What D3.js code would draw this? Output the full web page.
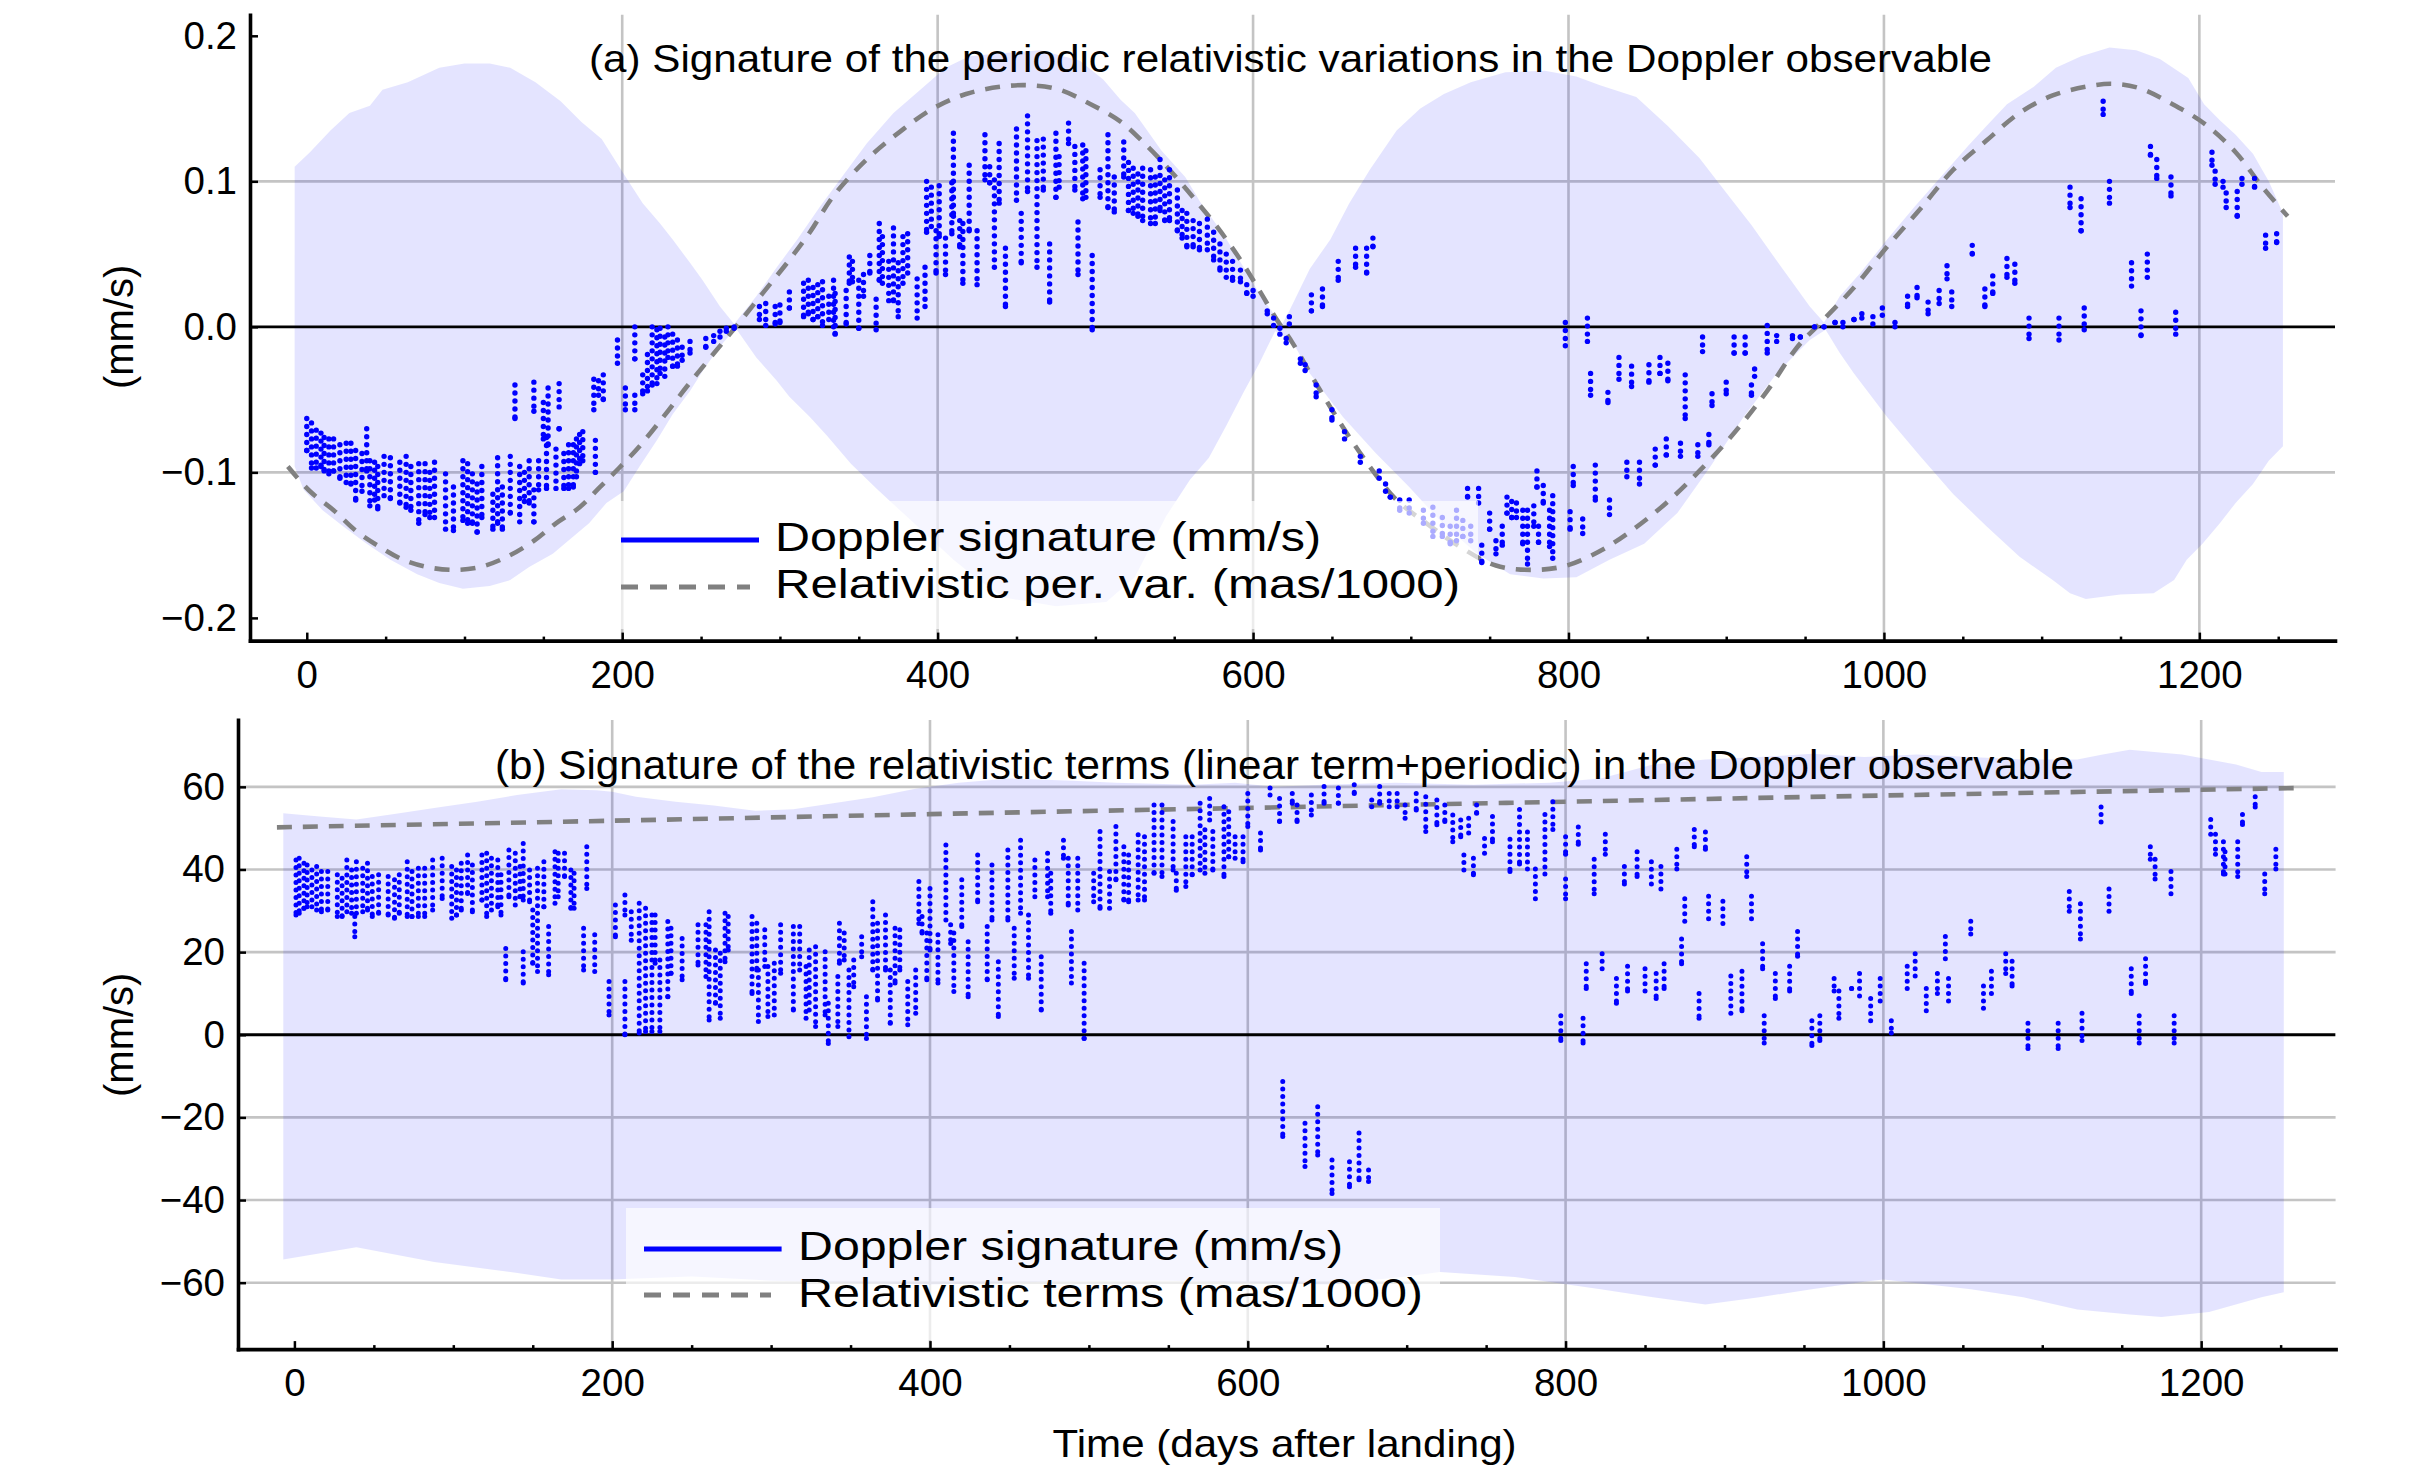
<!DOCTYPE html>
<html>
<head>
<meta charset="utf-8">
<script src="https://cdn.jsdelivr.net/npm/d3@7"></script>
<style>
  body { margin: 0; background: #fff; }
  text { font-family: "Liberation Sans", Arial, sans-serif; }
</style>
</head>
<body>
<script>

// ---- panel (a) : periodic relativistic variations ----
var xTicks = [0, 200, 400, 600, 800, 1000, 1200];
var yTicksA = [-0.2, -0.1, 0, 0.1, 0.2];
var yTicksB = [-60, -40, -20, 0, 20, 40, 60];

// dashed model curve, [day, mm/s]
var periodicCurve = [[-12,-0.096],[2,-0.113],[17,-0.126],[31,-0.140],[46,-0.151],[61,-0.160],[76,-0.165],[93,-0.167],
  [110,-0.165],[127,-0.158],[144,-0.147],[158,-0.135],[173,-0.124],[186,-0.110],[198,-0.097],[211,-0.082],[226,-0.062],
  [241,-0.041],[256,-0.021],[272,0.0],[289,0.023],[306,0.046],[319,0.065],[334,0.090],[355,0.115],[376,0.134],[397,0.150],
  [418,0.160],[440,0.165],[458,0.166],[477,0.163],[497,0.153],[516,0.141],[533,0.124],[547,0.108],[562,0.089],[577,0.069],
  [592,0.046],[604,0.025],[615,0.005],[625,-0.011],[640,-0.039],[657,-0.069],[674,-0.096],[691,-0.119],[710,-0.135],
  [731,-0.151],[754,-0.164],[778,-0.167],[799,-0.164],[820,-0.154],[840,-0.140],[862,-0.121],[883,-0.099],[905,-0.073],
  [926,-0.044],[945,-0.014],[960,0.003],[981,0.027],[1002,0.055],[1023,0.081],[1044,0.108],[1065,0.128],[1086,0.147],
  [1107,0.159],[1128,0.165],[1145,0.167],[1162,0.164],[1183,0.153],[1204,0.139],[1223,0.120],[1240,0.096],[1256,0.076]];

// shaded band, upper and lower edges
var bandTopA = [[-7.7,0.110],[2,0.120],[15,0.135],[27,0.147],[40,0.152],[48,0.163],[64,0.168],[84,0.178],[100,0.181],
  [116,0.181],[129,0.178],[145,0.168],[161,0.155],[174,0.141],[187,0.129],[201,0.105],[213,0.085],[224,0.071],[232,0.060],
  [243,0.044],[251,0.032],[262,0.014],[271,0.002],[285,0.021],[298,0.041],[311,0.060],[325,0.082],[338,0.101],[355,0.126],
  [372,0.147],[389,0.163],[405,0.178],[420,0.186],[440,0.188],[465,0.190],[490,0.183],[505,0.170],[516,0.156],[525,0.147],
  [542,0.121],[557,0.103],[567,0.085],[581,0.064],[594,0.041],[604,0.023],[613,0.009],[618,0.001],[623,0.011],[636,0.040],
  [649,0.060],[661,0.085],[674,0.108],[691,0.135],[706,0.150],[721,0.160],[738,0.168],[760,0.175],[785,0.176],[805,0.172],
  [820,0.166],[843,0.158],[863,0.138],[883,0.116],[903,0.088],[916,0.070],[929,0.050],[941,0.032],[953,0.014],[962,0.003],
  [972,0.021],[985,0.037],[1002,0.060],[1019,0.082],[1036,0.103],[1053,0.124],[1065,0.138],[1078,0.153],[1095,0.165],
  [1109,0.178],[1125,0.186],[1143,0.192],[1160,0.190],[1175,0.184],[1193,0.171],[1203,0.153],[1213,0.142],[1223,0.132],
  [1234,0.119],[1244,0.100],[1253,0.078]];
var bandBottomA = [[-7.7,-0.096],[-2,-0.112],[10,-0.126],[23,-0.137],[38,-0.149],[53,-0.160],[70,-0.170],[84,-0.176],
  [99,-0.180],[116,-0.178],[129,-0.174],[141,-0.165],[156,-0.156],[169,-0.144],[179,-0.135],[190,-0.121],[201,-0.113],
  [211,-0.096],[222,-0.078],[232,-0.060],[243,-0.044],[253,-0.027],[264,-0.011],[272,-0.001],[285,-0.021],[298,-0.037],
  [306,-0.048],[319,-0.062],[330,-0.075],[345,-0.094],[362,-0.112],[378,-0.128],[395,-0.145],[410,-0.160],[426,-0.174],
  [442,-0.186],[475,-0.192],[507,-0.189],[525,-0.172],[545,-0.130],[560,-0.105],[572,-0.090],[583,-0.068],[594,-0.045],
  [604,-0.025],[614,-0.003],[625,-0.010],[636,-0.032],[657,-0.062],[678,-0.087],[699,-0.110],[720,-0.135],[742,-0.156],
  [763,-0.170],[784,-0.173],[805,-0.172],[826,-0.160],[848,-0.149],[869,-0.128],[890,-0.096],[911,-0.062],[932,-0.032],
  [953,-0.009],[963,-0.002],[972,-0.018],[981,-0.032],[1002,-0.062],[1023,-0.089],[1044,-0.115],[1065,-0.137],
  [1086,-0.158],[1107,-0.174],[1118,-0.183],[1128,-0.187],[1150,-0.184],[1171,-0.183],[1184,-0.174],[1192,-0.160],
  [1202,-0.149],[1213,-0.135],[1223,-0.121],[1234,-0.108],[1244,-0.092],[1253,-0.082]];

// Doppler passes: [day, highest value, lowest value]
var passesA = [[0,-0.063,-0.085],[3,-0.066,-0.097],[6,-0.071,-0.097],[9,-0.073,-0.096],[11,-0.076,-0.099],[14,-0.077,-0.101],
  [17,-0.077,-0.099],[21,-0.081,-0.104],[25,-0.080,-0.107],[28,-0.080,-0.108],[31,-0.085,-0.119],[35,-0.087,-0.113],
  [38,-0.070,-0.099],[40,-0.092,-0.123],[43,-0.093,-0.119],[45,-0.096,-0.125],[49,-0.089,-0.116],[53,-0.090,-0.118],
  [59,-0.093,-0.121],[63,-0.089,-0.124],[66,-0.096,-0.126],[71,-0.094,-0.135],[75,-0.094,-0.129],[78,-0.100,-0.131],
  [81,-0.093,-0.131],[88,-0.101,-0.139],[93,-0.110,-0.140],[99,-0.092,-0.133],[102,-0.094,-0.135],[105,-0.101,-0.135],
  [108,-0.108,-0.141],[111,-0.096,-0.131],[118,-0.115,-0.139],[121,-0.090,-0.135],[124,-0.110,-0.139],[129,-0.089,-0.128],
  [132,-0.040,-0.063],[135,-0.096,-0.134],[138,-0.100,-0.120],[141,-0.092,-0.121],[144,-0.038,-0.058],[144,-0.112,-0.134],
  [147,-0.092,-0.112],[150,-0.052,-0.077],[152,-0.076,-0.111],[153,-0.042,-0.081],[158,-0.084,-0.111],[160,-0.039,-0.055],
  [160,-0.070,-0.070],[163,-0.087,-0.111],[166,-0.081,-0.111],[169,-0.081,-0.110],[171,-0.077,-0.103],[173,-0.074,-0.094],
  [175,-0.072,-0.092],[182,-0.036,-0.057],[183,-0.078,-0.100],[185,-0.037,-0.047],[188,-0.033,-0.050],[197,-0.009,-0.025],
  [202,-0.042,-0.057],[208,0.000,-0.022],[208,-0.047,-0.057],[213,-0.033,-0.046],[216,-0.019,-0.044],[219,0.000,-0.040],
  [222,-0.002,-0.039],[224,-0.001,-0.032],[227,-0.007,-0.034],[229,0.000,-0.021],[232,-0.005,-0.027],[235,-0.009,-0.027],
  [238,-0.014,-0.023],[243,-0.010,-0.018],[253,-0.008,-0.014],[258,-0.006,-0.010],[262,-0.003,-0.007],[266,-0.001,-0.003],
  [271,0.000,-0.001],[287,0.014,0.005],[291,0.016,0.001],[297,0.014,0.002],[300,0.015,0.003],[306,0.024,0.013],
  [315,0.030,0.007],[318,0.032,0.009],[321,0.027,0.005],[324,0.029,0.007],[327,0.031,0.001],[331,0.021,0.005],
  [334,0.032,0.000],[335,0.023,-0.005],[342,0.025,0.002],[344,0.048,0.030],[346,0.045,0.031],[350,0.032,-0.001],
  [353,0.036,0.021],[357,0.049,0.037],[361,0.019,-0.002],[363,0.071,0.032],[365,0.062,0.030],[369,0.045,0.018],
  [372,0.068,0.018],[375,0.044,0.007],[378,0.062,0.030],[381,0.064,0.037],[387,0.033,0.006],[392,0.041,0.014],
  [393,0.100,0.065],[396,0.096,0.069],[399,0.066,0.037],[401,0.097,0.062],[405,0.061,0.036],[409,0.099,0.064],
  [410,0.133,0.076],[414,0.073,0.055],[416,0.071,0.030],[420,0.111,0.066],[425,0.066,0.029],[430,0.132,0.101],
  [433,0.110,0.099],[436,0.101,0.041],[439,0.126,0.085],[443,0.054,0.014],[450,0.136,0.087],[453,0.078,0.044],
  [457,0.145,0.093],[463,0.128,0.041],[467,0.129,0.094],[471,0.057,0.017],[475,0.133,0.089],[477,0.117,0.096],
  [483,0.140,0.126],[487,0.124,0.094],[489,0.072,0.036],[492,0.125,0.088],[494,0.121,0.089],[498,0.049,-0.002],
  [503,0.108,0.089],[508,0.132,0.082],[512,0.103,0.079],[518,0.127,0.103],[521,0.113,0.080],[524,0.109,0.078],
  [527,0.105,0.076],[530,0.109,0.073],[535,0.108,0.071],[538,0.103,0.071],[541,0.115,0.080],[544,0.101,0.073],
  [547,0.108,0.073],[552,0.094,0.066],[555,0.080,0.061],[558,0.078,0.055],[562,0.073,0.055],[566,0.071,0.053],
  [571,0.074,0.053],[575,0.065,0.046],[579,0.057,0.039],[583,0.050,0.034],[587,0.045,0.032],[592,0.039,0.031],
  [596,0.029,0.023],[600,0.025,0.021],[609,0.011,0.009],[613,0.006,0.001],[617,-0.001,-0.005],[621,-0.008,-0.011],
  [623,0.007,0.002],[630,-0.022,-0.025],[633,-0.026,-0.030],[637,0.022,0.011],[640,-0.040,-0.048],[644,0.026,0.014],
  [650,-0.057,-0.064],[654,0.045,0.032],[658,-0.072,-0.077],[665,0.054,0.041],[668,-0.089,-0.093],[672,0.054,0.037],
  [676,0.061,0.055],[680,-0.099,-0.104],[684,-0.108,-0.113],[687,-0.117,-0.117],[693,-0.119,-0.126],[699,-0.119,-0.128],
  [708,-0.126,-0.135],[714,-0.124,-0.144],[720,-0.131,-0.144],[725,-0.137,-0.149],[729,-0.126,-0.147],[733,-0.133,-0.144],
  [736,-0.111,-0.117],[738,-0.137,-0.147],[743,-0.111,-0.121],[745,-0.150,-0.162],[750,-0.128,-0.139],[754,-0.147,-0.156],
  [758,-0.137,-0.150],[761,-0.117,-0.128],[764,-0.120,-0.131],[767,-0.121,-0.131],[771,-0.126,-0.149],[774,-0.126,-0.163],
  [778,-0.123,-0.137],[780,-0.099,-0.110],[781,-0.137,-0.148],[784,-0.109,-0.121],[788,-0.126,-0.151],[790,-0.116,-0.159],
  [798,0.003,-0.013],[801,-0.127,-0.139],[803,-0.096,-0.109],[809,-0.132,-0.142],[812,0.006,-0.010],[814,-0.032,-0.047],
  [817,-0.095,-0.119],[825,-0.045,-0.052],[826,-0.119,-0.129],[832,-0.021,-0.036],[837,-0.093,-0.103],[840,-0.027,-0.041],
  [845,-0.093,-0.108],[851,-0.026,-0.038],[855,-0.084,-0.095],[858,-0.021,-0.032],[862,-0.077,-0.088],[863,-0.025,-0.037],
  [871,-0.080,-0.089],[874,-0.033,-0.063],[882,-0.081,-0.089],[885,-0.007,-0.017],[889,-0.074,-0.081],[891,-0.046,-0.054],
  [900,-0.038,-0.046],[905,-0.007,-0.018],[912,-0.007,-0.018],[916,-0.040,-0.047],[918,-0.029,-0.034],[926,0.001,-0.018],
  [932,-0.006,-0.010],[942,-0.006,-0.008],[947,-0.007,-0.007],[956,0,0],[962,0,0],[969,0.003,0.003],[974,0.003,0.000],
  [981,0.005,0.005],[986,0.009,0.006],[993,0.007,0.002],[999,0.013,0.008],[1007,0.003,0.000],[1015,0.021,0.014],
  [1021,0.027,0.020],[1028,0.017,0.009],[1035,0.025,0.016],[1040,0.042,0.033],[1043,0.024,0.014],[1056,0.056,0.050],
  [1064,0.026,0.014],[1069,0.035,0.023],[1078,0.047,0.034],[1083,0.043,0.030],[1092,0.006,-0.008],[1111,0.006,-0.009],
  [1118,0.096,0.082],[1125,0.088,0.066],[1127,0.013,-0.002],[1139,0.155,0.146],[1143,0.100,0.085],[1157,0.044,0.028],
  [1163,0.011,-0.006],[1167,0.050,0.034],[1169,0.124,0.118],[1173,0.115,0.102],[1182,0.103,0.090],[1185,0.010,-0.005],
  [1208,0.120,0.111],[1210,0.107,0.098],[1215,0.100,0.096],[1217,0.092,0.082],[1224,0.093,0.076],[1227,0.102,0.098],
  [1235,0.102,0.096],[1242,0.063,0.054],[1249,0.064,0.058]];

// ---- panel (b) : linear term + periodic ----
var linearCurve = [[-11,50.2],[200,51.8],[400,53.4],[600,54.9],[800,56.4],[1000,57.9],[1259,59.7]];

var bandTopB = [[-7,53.6],[16,52.8],[39,52.1],[66,53.6],[90,55.0],[115,56.4],[140,58.0],[168,59.4],[190,59.2],[200,58.8],
  [215,57.6],[240,56.4],[264,55.5],[290,54.2],[314,54.6],[339,56.0],[364,57.5],[390,59.5],[418,61.0],[450,62.0],[490,61.5],
  [517,61.0],[565,60.5],[592,61.0],[617,60.0],[647,60.5],[693,61.0],[742,60.5],[790,61.0],[822,62.0],[855,65.4],[888,66.6],
  [922,67.2],[955,68.0],[988,67.2],[1021,67.8],[1055,67.2],[1088,66.6],[1122,66.6],[1138,67.8],[1155,69.0],[1188,67.8],
  [1205,66.6],[1222,65.4],[1238,63.6],[1252,63.6]];
var bandBottomB = [[-7,-54.4],[39,-51.4],[88,-55.0],[136,-57.4],[168,-59.2],[200,-59.2],[250,-58.5],[300,-59.5],[350,-60.0],
  [400,-60.5],[450,-60.0],[500,-59.5],[550,-59.5],[600,-60.0],[650,-60.5],[700,-58.5],[721,-57.4],[768,-58.6],[800,-60.4],
  [822,-61.6],[855,-63.5],[888,-65.3],[922,-63.5],[955,-61.6],[988,-59.8],[1000,-59.2],[1055,-61.6],[1088,-63.5],
  [1122,-66.5],[1155,-67.7],[1175,-68.3],[1205,-67.1],[1238,-63.5],[1252,-62.3]];

var passesB = [[1,42.3,29.0],[3,42.7,29.4],[6,41.5,30.6],[8,41.1,31.0],[11,39.9,31.0],[14,40.7,30.2],[17,39.5,29.8],
  [21,39.5,30.2],[27,38.7,28.6],[30,37.9,28.6],[33,42.3,29.8],[36,39.9,29.4],[38,28.6,23.7],[39,41.9,29.4],[43,40.3,29.8],
  [46,41.5,30.2],[49,38.3,28.6],[53,38.7,29.4],[59,38.3,29.0],[63,37.5,28.2],[66,38.7,29.4],[71,41.9,28.6],[74,39.5,28.6],
  [78,40.3,28.6],[82,40.3,28.6],[87,42.3,30.2],[93,42.7,33.0],[99,40.7,28.2],[102,39.9,29.0],[105,41.5,30.2],
  [109,43.5,34.2],[112,41.1,29.8],[118,43.5,32.6],[121,43.9,28.6],[124,42.7,30.2],[128,42.3,31.0],[130,38.7,29.0],
  [133,20.9,13.3],[135,44.7,33.4],[139,43.9,31.4],[142,40.7,33.4],[144,46.3,32.6],[144,20.1,12.5],[148,39.9,32.2],
  [150,30.2,17.3],[153,40.3,15.3],[157,41.9,31.0],[160,26.2,14.5],[164,44.3,31.8],[166,43.9,33.4],[170,43.9,38.3],
  [174,39.9,30.6],[176,39.1,30.6],[182,25.8,15.7],[184,45.5,35.4],[189,24.2,15.3],[198,12.9,4.8],[202,31.4,23.7],
  [208,33.8,29.0],[208,12.9,0],[212,29.8,22.9],[217,31.8,0.4],[221,30.6,0.8],[225,29.0,0.8],[227,29.0,17.3],[230,18.1,0.8],
  [235,27.4,9.2],[237,25.8,14.9],[244,23.3,13.3],[254,26.6,16.9],[259,26.6,14.1],[261,29.8,3.6],[265,20.5,7.6],
  [268,19.7,4.0],[271,29.4,17.7],[273,28.6,20.5],[288,28.6,10.0],[291,27.0,15.7],[292,15.7,3.2],[296,25.4,16.5],
  [298,16.5,4.4],[302,17.3,4.8],[306,26.6,14.9],[314,26.2,6.0],[318,26.2,15.7],[322,16.5,4.0],[324,20.5,6.0],
  [328,21.3,2.0],[334,20.1,4.8],[336,7.6,-2.1],[342,14.1,2.0],[343,27.0,17.3],[346,24.6,18.1],[349,15.7,-0.5],
  [352,18.1,11.6],[357,23.7,18.9],[360,9.2,-0.9],[364,32.2,15.7],[367,27.0,8.4],[372,29.0,15.7],[375,15.7,2.8],
  [378,25.8,12.5],[381,25.4,15.7],[386,12.9,2.4],[391,15.7,5.2],[393,37.1,26.9],[395,28.6,24.6],[398,24.6,13.3],
  [400,35.4,20.5],[405,24.2,12.5],[410,45.9,27.8],[413,26.6,22.1],[415,24.6,10.5],[420,37.5,26.2],[424,22.5,9.2],
  [430,43.5,32.2],[436,26.2,13.3],[439,41.1,27.8],[443,17.7,4.4],[449,44.7,27.8],[453,25.8,13.7],[457,47.1,29.4],
  [462,29.0,13.7],[466,42.3,33.4],[470,18.9,6.0],[474,43.9,33.4],[476,39.1,29.4],[484,47.1,42.7],[487,42.7,31.4],
  [489,25.0,12.5],[493,42.7,30.2],[497,17.3,-0.9],[503,39.1,32.2],[507,49.2,30.6],[513,39.5,30.6],[517,50.4,37.5],
  [522,45.5,32.6],[525,43.5,32.2],[531,48.4,32.6],[535,47.9,32.6],[541,55.6,39.1],[546,55.6,38.3],[553,51.6,39.9],
  [555,39.1,35.0],[561,47.9,35.9],[565,47.9,38.7],[570,56.0,39.9],[573,49.6,39.1],[576,57.2,52.0],[578,49.2,39.9],
  [585,55.2,38.3],[588,54.0,43.1],[592,47.9,42.7],[597,47.9,41.9],[600,58.4,50.4],[608,48.8,44.7],[614,59.7,58.0],
  [620,57.2,51.6],[622,-11.3,-24.6],[628,58.4,56.0],[631,55.6,51.6],[636,-21.4,-31.9],[640,58.0,53.2],[644,-17.4,-29.1],
  [648,60.1,56.0],[653,-30.3,-38.4],[657,59.7,56.0],[664,-30.7,-36.8],[667,60.5,58.4],[670,-23.8,-35.1],[676,-32.7,-35.5],
  [678,56.8,55.2],[683,60.1,56.0],[689,58.4,55.2],[694,58.4,55.2],[699,55.6,52.4],[706,58.4,54.4],[712,57.6,49.2],
  [719,56.8,50.8],[724,55.6,51.6],[729,53.2,46.7],[734,52.0,47.9],[736,43.5,39.9],[739,52.4,48.8],[742,42.7,38.7],
  [744,55.6,53.6],[749,47.5,43.9],[754,52.8,46.7],[765,47.3,39.5],[771,54.5,41.3],[776,49.1,40.1],[781,40.1,32.9],
  [787,53.3,38.9],[792,56.4,49.7],[797,4.6,-1.4],[800,47.9,43.7],[800,37.7,32.9],[808,50.3,46.1],[811,4.0,-2.0],
  [813,17.2,11.2],[818,42.5,34.1],[823,19.6,16.0],[825,48.5,43.7],[832,13.6,7.6],[837,40.7,36.5],[839,16.6,10.6],
  [845,44.3,38.3],[850,16.0,10.6],[854,41.9,36.5],[857,14.8,8.8],[860,40.7,35.3],[862,17.2,11.2],[870,44.9,40.1],
  [873,23.2,17.2],[875,32.9,27.5],[881,49.7,45.5],[884,10.0,4.0],[888,49.1,44.9],[890,33.5,28.1],[899,32.3,26.9],
  [904,14.2,5.2],[911,15.4,5.8],[914,43.1,38.3],[917,33.5,28.1],[924,22.0,16.0],[925,4.6,-2.0],[932,14.8,8.8],
  [941,16.6,10.6],[946,25.0,19.0],[955,3.4,-2.6],[960,4.6,-1.4],[969,13.6,10.6],[972,10.6,4.0],[980,11.2,11.2],
  [985,14.8,9.4],[992,8.8,3.4],[998,13.6,8.2],[1005,3.4,0.4],[1015,16.6,11.2],[1020,19.6,14.2],[1027,11.2,5.8],
  [1034,14.8,10.0],[1039,23.8,18.4],[1041,13.6,8.2],[1055,27.5,24.4],[1063,11.8,6.4],[1068,15.4,10.0],[1077,19.6,14.8],
  [1081,17.8,11.8],[1091,2.8,-3.3],[1110,2.8,-3.3],[1117,34.7,29.9],[1124,31.7,23.2],[1125,5.2,-1.4],[1137,55.1,51.5],
  [1142,35.3,29.9],[1156,16.0,10.0],[1161,4.6,-2.0],[1165,18.4,12.4],[1168,45.5,42.5],[1171,42.5,37.7],[1181,39.5,34.1],
  [1183,4.6,-2.0],[1206,52.1,48.5],[1209,48.5,43.7],[1214,46.7,38.9],[1215,44.3,38.9],[1223,46.7,38.3],[1226,53.3,50.9],
  [1234,57.6,55.1],[1240,38.9,34.1],[1247,44.9,40.1]];

var svgWidth = 2431;
var svgHeight = 1481;

var svg = d3.select("body")
    .append("svg")
    .attr("width", svgWidth)
    .attr("height", svgHeight);

var blue = "#0000ff";
var gridColor = "#c4c4c4";

var panels = [
  {
    id: "a",
    x: d3.scaleLinear().domain([-36, 1286]).range([250, 2335]),
    y: d3.scaleLinear().domain([-0.2156, 0.2145]).range([640.6, 14.7]),
    yTicks: yTicksA, yFormat: d3.format(".1f"), yGrid: [-0.1, 0.1],
    bandTop: bandTopA, bandBottom: bandBottomA, curve: periodicCurve, passes: passesA,
    dotR: 2.7, dotGap: 8,
    title: "(a) Signature of the periodic relativistic variations in the Doppler observable",
    titleX: 589, titleY: 71.5, titleSize: 38, titleLen: 1403,
    box: [620, 501, 858, 128],
    legX0: 621, legX1: 759, legDashX1: 750, legLineY: 540, legDashY: 587,
    legTextX: 775, legText1Y: 551, legText2Y: 598,
    leg1: "Doppler signature (mm/s)", leg1Len: 546,
    leg2: "Relativistic per. var. (mas/1000)", leg2Len: 685
  },
  {
    id: "b",
    x: d3.scaleLinear().domain([-35.5, 1284.6]).range([238, 2335.6]),
    y: d3.scaleLinear().domain([-76.07, 76.2]).range([1349.1, 719.9]),
    yTicks: yTicksB, yFormat: d3.format("d"), yGrid: [-60, -40, -20, 20, 40, 60],
    bandTop: bandTopB, bandBottom: bandBottomB, curve: linearCurve, passes: passesB,
    dotR: 2.5, dotGap: 7.5,
    title: "(b) Signature of the relativistic terms (linear term+periodic) in the Doppler observable",
    titleX: 495, titleY: 778.6, titleSize: 40, titleLen: 1579,
    box: [626, 1208, 814, 132],
    legX0: 644, legX1: 781.6, legDashX1: 771, legLineY: 1249, legDashY: 1295,
    legTextX: 798, legText1Y: 1259.7, legText2Y: 1307,
    leg1: "Doppler signature (mm/s)", leg1Len: 545,
    leg2: "Relativistic terms (mas/1000)", leg2Len: 625
  }
];

panels.forEach(function(p) {
  var x = p.x, y = p.y;
  var x0 = x.range()[0], x1 = x.range()[1];
  var yBot = y.range()[0], yTop = y.range()[1];
  var g = svg.append("g");

  g.append("clipPath").attr("id", "clip-" + p.id)
    .append("rect").attr("x", x0).attr("y", yTop).attr("width", x1 - x0).attr("height", yBot - yTop);

  // gridlines
  g.selectAll("line.vgrid").data(xTicks.filter(function(d) { return d > 0; }))
    .enter().append("line")
    .attr("x1", function(d) { return x(d); }).attr("x2", function(d) { return x(d); })
    .attr("y1", yTop).attr("y2", yBot)
    .attr("stroke", gridColor).attr("stroke-width", 2.6);
  g.selectAll("line.hgrid").data(p.yGrid)
    .enter().append("line")
    .attr("x1", x0).attr("x2", x1)
    .attr("y1", function(d) { return y(d); }).attr("y2", function(d) { return y(d); })
    .attr("stroke", gridColor).attr("stroke-width", 2.6);

  var plot = g.append("g").attr("clip-path", "url(#clip-" + p.id + ")");

  // shaded band
  var edge = d3.line().x(function(d) { return x(d[0]); }).y(function(d) { return y(d[1]); });
  var ring = p.bandTop.concat(p.bandBottom.slice().reverse());
  plot.append("path")
    .attr("d", edge(ring) + "Z")
    .attr("fill", blue).attr("fill-opacity", 0.105);

  // zero line
  plot.append("line")
    .attr("x1", x0).attr("x2", x1).attr("y1", y(0)).attr("y2", y(0))
    .attr("stroke", "#000").attr("stroke-width", 2.8);

  // dashed model curve
  plot.append("path")
    .attr("d", d3.line().curve(d3.curveCatmullRom)
      .x(function(d) { return x(d[0]); }).y(function(d) { return y(d[1]); })(p.curve))
    .attr("fill", "none").attr("stroke", "#808080").attr("stroke-width", 4.6)
    .attr("stroke-dasharray", "15 11");

  // Doppler passes as dotted columns
  plot.selectAll("line.pass").data(p.passes)
    .enter().append("line")
    .attr("x1", function(d) { return x(d[0]); }).attr("x2", function(d) { return x(d[0]); })
    .attr("y1", function(d) { return y(d[1]); }).attr("y2", function(d) { return y(d[2]); })
    .attr("stroke", blue).attr("stroke-width", 2 * p.dotR)
    .attr("stroke-linecap", "round").attr("stroke-dasharray", "0 " + p.dotGap);
  plot.selectAll("circle.end").data(p.passes)
    .enter().append("circle")
    .attr("cx", function(d) { return x(d[0]); }).attr("cy", function(d) { return y(d[2]); })
    .attr("r", p.dotR).attr("fill", blue);

  // legend
  g.append("rect")
    .attr("x", p.box[0]).attr("y", p.box[1]).attr("width", p.box[2]).attr("height", p.box[3])
    .attr("fill", "#fff").attr("fill-opacity", 0.67);
  g.append("line").attr("x1", p.legX0).attr("x2", p.legX1).attr("y1", p.legLineY).attr("y2", p.legLineY)
    .attr("stroke", blue).attr("stroke-width", 5);
  g.append("line").attr("x1", p.legX0).attr("x2", p.legDashX1).attr("y1", p.legDashY).attr("y2", p.legDashY)
    .attr("stroke", "#808080").attr("stroke-width", 5).attr("stroke-dasharray", "17 12");
  g.append("text").attr("x", p.legTextX).attr("y", p.legText1Y)
    .attr("font-size", 41.5).attr("textLength", p.leg1Len).attr("lengthAdjust", "spacingAndGlyphs")
    .text(p.leg1);
  g.append("text").attr("x", p.legTextX).attr("y", p.legText2Y)
    .attr("font-size", 41.5).attr("textLength", p.leg2Len).attr("lengthAdjust", "spacingAndGlyphs")
    .text(p.leg2);

  // title
  g.append("text").attr("x", p.titleX).attr("y", p.titleY)
    .attr("font-size", p.titleSize).attr("textLength", p.titleLen).attr("lengthAdjust", "spacingAndGlyphs")
    .text(p.title);

  // axes
  var minor = d3.range(0, 1300, 50).filter(function(d) { return d % 200 !== 0 && d < x.domain()[1]; });
  g.append("g").attr("transform", "translate(0," + yBot + ")")
    .call(d3.axisBottom(x).tickValues(minor).tickSizeInner(-4).tickSizeOuter(0).tickFormat(""))
    .call(function(a) { a.select(".domain").remove(); a.selectAll("line").attr("stroke-width", 2.5); });

  var xAxis = g.append("g").attr("transform", "translate(0," + yBot + ")")
    .call(d3.axisBottom(x).tickValues(xTicks).tickFormat(d3.format("d"))
      .tickSizeInner(-8).tickSizeOuter(0).tickPadding(20));
  var yAxis = g.append("g").attr("transform", "translate(" + x0 + ",0)")
    .call(d3.axisLeft(y).tickValues(p.yTicks).tickFormat(p.yFormat).tickSizeInner(-8).tickSizeOuter(0).tickPadding(13));

  [xAxis, yAxis].forEach(function(a) {
    a.attr("font-family", null).attr("font-size", null);
    a.select(".domain").attr("stroke", "#000").attr("stroke-width", 3.6).attr("stroke-linecap", "square");
    a.selectAll(".tick line").attr("stroke", "#000").attr("stroke-width", 2.5);
    a.selectAll(".tick text").attr("fill", "#000").attr("font-size", 38.5);
  });

  // y axis label
  g.append("text")
    .attr("transform", "translate(119," + y(0) + ") rotate(-90)")
    .attr("text-anchor", "middle").attr("dominant-baseline", "central")
    .attr("font-size", 40)
    .text("(mm/s)");
});

svg.append("text")
  .attr("x", 1052.6).attr("y", 1457)
  .attr("font-size", 39).attr("textLength", 464).attr("lengthAdjust", "spacingAndGlyphs")
  .text("Time (days after landing)");

</script>
</body>
</html>
